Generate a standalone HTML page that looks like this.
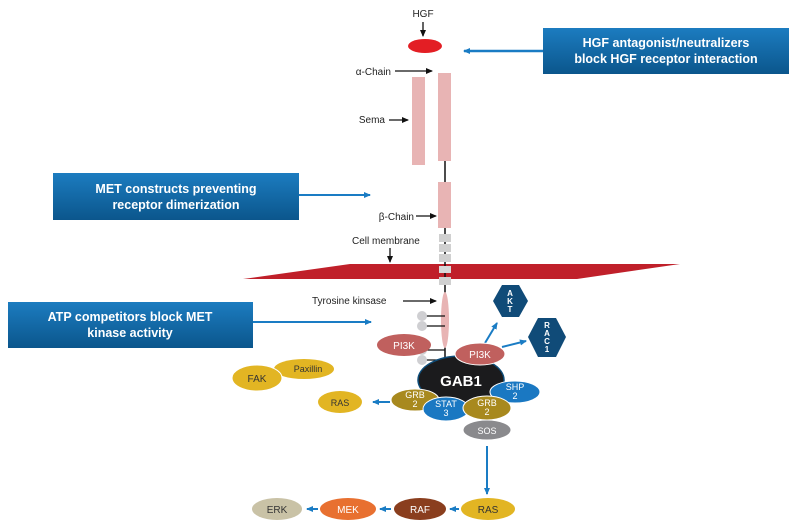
<!DOCTYPE html>
<html><head><meta charset="utf-8"><style>
html,body{margin:0;padding:0;background:#fff;}
svg{display:block;font-family:"Liberation Sans",sans-serif;}
</style></head><body>
<svg width="800" height="525" viewBox="0 0 800 525" xmlns="http://www.w3.org/2000/svg">
<defs>
<linearGradient id="bg" x1="0" y1="0" x2="0" y2="1">
<stop offset="0" stop-color="#1c7cc0"/><stop offset="1" stop-color="#0b568c"/></linearGradient>
<marker id="ak" markerWidth="8" markerHeight="8" refX="6" refY="3" orient="auto" markerUnits="userSpaceOnUse"><path d="M0,0 L7,3 L0,6 z" fill="#111"/></marker>
<marker id="ab" markerWidth="8" markerHeight="8" refX="6" refY="3" orient="auto" markerUnits="userSpaceOnUse"><path d="M0,0 L7,3 L0,6 z" fill="#1a7cc4"/></marker>
</defs>
<polygon points="243,279 350,264 680,264 577,279" fill="#c0202a"/>
<text x="423" y="17" font-size="10" text-anchor="middle" fill="#222">HGF</text>
<line x1="423" y1="22" x2="423" y2="36" stroke="#111" stroke-width="1.3" marker-end="url(#ak)"/>
<ellipse cx="425" cy="46" rx="17" ry="7" fill="#e31e24"/>
<rect x="543" y="28" width="246" height="46" fill="url(#bg)"/>
<text x="666" y="47" font-size="12.5" font-weight="bold" fill="#fff" text-anchor="middle">HGF antagonist/neutralizers</text>
<text x="666" y="63" font-size="12.5" font-weight="bold" fill="#fff" text-anchor="middle">block HGF receptor interaction</text>
<line x1="543" y1="51" x2="464" y2="51" stroke="#1a7cc4" stroke-width="2.5" marker-end="url(#ab)"/>
<rect x="53" y="173" width="246" height="47" fill="url(#bg)"/>
<text x="176" y="193" font-size="12.5" font-weight="bold" fill="#fff" text-anchor="middle">MET constructs preventing</text>
<text x="176" y="209" font-size="12.5" font-weight="bold" fill="#fff" text-anchor="middle">receptor dimerization</text>
<line x1="299" y1="195" x2="370" y2="195" stroke="#1a7cc4" stroke-width="2" marker-end="url(#ab)"/>
<rect x="8" y="302" width="245" height="46" fill="url(#bg)"/>
<text x="130" y="321" font-size="12.5" font-weight="bold" fill="#fff" text-anchor="middle">ATP competitors block MET</text>
<text x="130" y="337" font-size="12.5" font-weight="bold" fill="#fff" text-anchor="middle">kinase activity</text>
<line x1="253" y1="322" x2="371" y2="322" stroke="#1a7cc4" stroke-width="2" marker-end="url(#ab)"/>
<line x1="445" y1="160" x2="445" y2="360" stroke="#111" stroke-width="1.5"/>
<rect x="412" y="77" width="13" height="88" fill="#e8b4b4"/>
<rect x="438" y="73" width="13" height="88" fill="#e8b4b4"/>
<rect x="438" y="182" width="13" height="46" fill="#e8b4b4"/>
<rect x="439" y="234" width="12" height="8" fill="#d0d0d0"/>
<rect x="439" y="244" width="12" height="8" fill="#d0d0d0"/>
<rect x="439" y="254" width="12" height="8" fill="#d0d0d0"/>
<rect x="439" y="266" width="12" height="7" fill="#d8d8d8"/>
<rect x="439" y="277" width="12" height="8" fill="#d0d0d0"/>
<ellipse cx="445" cy="320" rx="4" ry="28" fill="#e8b4b4"/>
<text x="391" y="75" font-size="10" text-anchor="end" fill="#222">α-Chain</text>
<line x1="395" y1="71" x2="432" y2="71" stroke="#111" stroke-width="1.3" marker-end="url(#ak)"/>
<text x="385" y="123" font-size="10" text-anchor="end" fill="#222">Sema</text>
<line x1="389" y1="120" x2="408" y2="120" stroke="#111" stroke-width="1.3" marker-end="url(#ak)"/>
<text x="414" y="220" font-size="10" text-anchor="end" fill="#222">β-Chain</text>
<line x1="416" y1="216" x2="436" y2="216" stroke="#111" stroke-width="1.3" marker-end="url(#ak)"/>
<text x="352" y="244" font-size="10" fill="#222">Cell membrane</text>
<line x1="390" y1="248" x2="390" y2="262" stroke="#111" stroke-width="1.3" marker-end="url(#ak)"/>
<text x="312" y="304" font-size="10" fill="#222">Tyrosine kinsase</text>
<line x1="403" y1="301" x2="436" y2="301" stroke="#111" stroke-width="1.3" marker-end="url(#ak)"/>
<g stroke="#111" stroke-width="1.3">
<line x1="423" y1="316" x2="445" y2="316"/><line x1="423" y1="326" x2="445" y2="326"/>
<line x1="423" y1="350" x2="445" y2="350"/><line x1="423" y1="360" x2="445" y2="360"/></g>
<g fill="#cfcfd2"><circle cx="422" cy="316" r="5"/><circle cx="422" cy="326" r="5"/><circle cx="422" cy="350" r="5"/><circle cx="422" cy="360" r="5"/></g>
<ellipse cx="404" cy="345" rx="27" ry="11" fill="#c0605e"/>
<text x="404" y="349" font-size="10" fill="#fff" text-anchor="middle">PI3K</text>
<line x1="485" y1="343" x2="497" y2="323" stroke="#1a7cc4" stroke-width="2" marker-end="url(#ab)"/>
<line x1="502" y1="347" x2="526" y2="341" stroke="#1a7cc4" stroke-width="2" marker-end="url(#ab)"/>
<polygon points="493,301 502,285 519,285 528,301 519,317 502,317" fill="#104b78"/>
<text x="510" y="296" font-size="8" font-weight="bold" fill="#fff" text-anchor="middle">A</text>
<text x="510" y="304" font-size="8" font-weight="bold" fill="#fff" text-anchor="middle">K</text>
<text x="510" y="312" font-size="8" font-weight="bold" fill="#fff" text-anchor="middle">T</text>
<polygon points="528,337 538,318 556,318 566,337 556,357 538,357" fill="#104b78"/>
<text x="547" y="328" font-size="8" font-weight="bold" fill="#fff" text-anchor="middle">R</text>
<text x="547" y="336" font-size="8" font-weight="bold" fill="#fff" text-anchor="middle">A</text>
<text x="547" y="344" font-size="8" font-weight="bold" fill="#fff" text-anchor="middle">C</text>
<text x="547" y="352" font-size="8" font-weight="bold" fill="#fff" text-anchor="middle">1</text>
<ellipse cx="461" cy="380" rx="43" ry="24" fill="#1b1b1d" stroke="#0e4d7a" stroke-width="1.5"/>
<text x="461" y="386" font-size="15" font-weight="bold" fill="#fff" text-anchor="middle">GAB1</text>
<ellipse cx="480" cy="354" rx="25" ry="11" fill="#c0605e" stroke="#fff"/>
<text x="480" y="358" font-size="10" fill="#fff" text-anchor="middle">PI3K</text>
<ellipse cx="515" cy="392" rx="25" ry="11" fill="#1a78c2" stroke="#fff"/>
<text x="515" y="390" font-size="9" fill="#fff" text-anchor="middle">SHP</text>
<text x="515" y="399" font-size="9" fill="#fff" text-anchor="middle">2</text>
<ellipse cx="415" cy="400" rx="24" ry="11" fill="#a8891e" stroke="#fff"/>
<text x="415" y="398" font-size="9" fill="#fff" text-anchor="middle">GRB</text>
<text x="415" y="407" font-size="9" fill="#fff" text-anchor="middle">2</text>
<ellipse cx="446" cy="409" rx="23" ry="12" fill="#1a78c2" stroke="#fff"/>
<text x="446" y="407" font-size="9" fill="#fff" text-anchor="middle">STAT</text>
<text x="446" y="416" font-size="9" fill="#fff" text-anchor="middle">3</text>
<ellipse cx="487" cy="408" rx="24" ry="12" fill="#a8891e" stroke="#fff"/>
<text x="487" y="406" font-size="9" fill="#fff" text-anchor="middle">GRB</text>
<text x="487" y="415" font-size="9" fill="#fff" text-anchor="middle">2</text>
<ellipse cx="487" cy="430" rx="24" ry="10" fill="#8a8a8d" stroke="#fff"/>
<text x="487" y="434" font-size="9" fill="#fff" text-anchor="middle">SOS</text>
<ellipse cx="340" cy="402" rx="22" ry="11" fill="#e2b523"/>
<text x="340" y="406" font-size="9" fill="#333" text-anchor="middle">RAS</text>
<line x1="390" y1="402" x2="373" y2="402" stroke="#1a7cc4" stroke-width="2" marker-end="url(#ab)"/>
<ellipse cx="304" cy="369" rx="30" ry="10" fill="#e2b523"/>
<text x="308" y="372" font-size="9" fill="#333" text-anchor="middle">Paxillin</text>
<ellipse cx="257" cy="378" rx="25" ry="13" fill="#e2b523" stroke="#fff"/>
<text x="257" y="382" font-size="10" fill="#333" text-anchor="middle">FAK</text>
<line x1="487" y1="446" x2="487" y2="494" stroke="#1a7cc4" stroke-width="2" marker-end="url(#ab)"/>
<ellipse cx="488" cy="509" rx="27" ry="11" fill="#e2b523"/>
<text x="488" y="513" font-size="10" fill="#333" text-anchor="middle">RAS</text>
<ellipse cx="420" cy="509" rx="26" ry="11" fill="#8a3e1e"/>
<text x="420" y="513" font-size="10" fill="#fff" text-anchor="middle">RAF</text>
<ellipse cx="348" cy="509" rx="28" ry="11" fill="#e87030"/>
<text x="348" y="513" font-size="10" fill="#fff" text-anchor="middle">MEK</text>
<ellipse cx="277" cy="509" rx="25" ry="11" fill="#c9c2a6"/>
<text x="277" y="513" font-size="10" fill="#333" text-anchor="middle">ERK</text>
<line x1="459" y1="509" x2="450" y2="509" stroke="#1a7cc4" stroke-width="2" marker-end="url(#ab)"/>
<line x1="391" y1="509" x2="380" y2="509" stroke="#1a7cc4" stroke-width="2" marker-end="url(#ab)"/>
<line x1="318" y1="509" x2="307" y2="509" stroke="#1a7cc4" stroke-width="2" marker-end="url(#ab)"/>
</svg>
</body></html>
